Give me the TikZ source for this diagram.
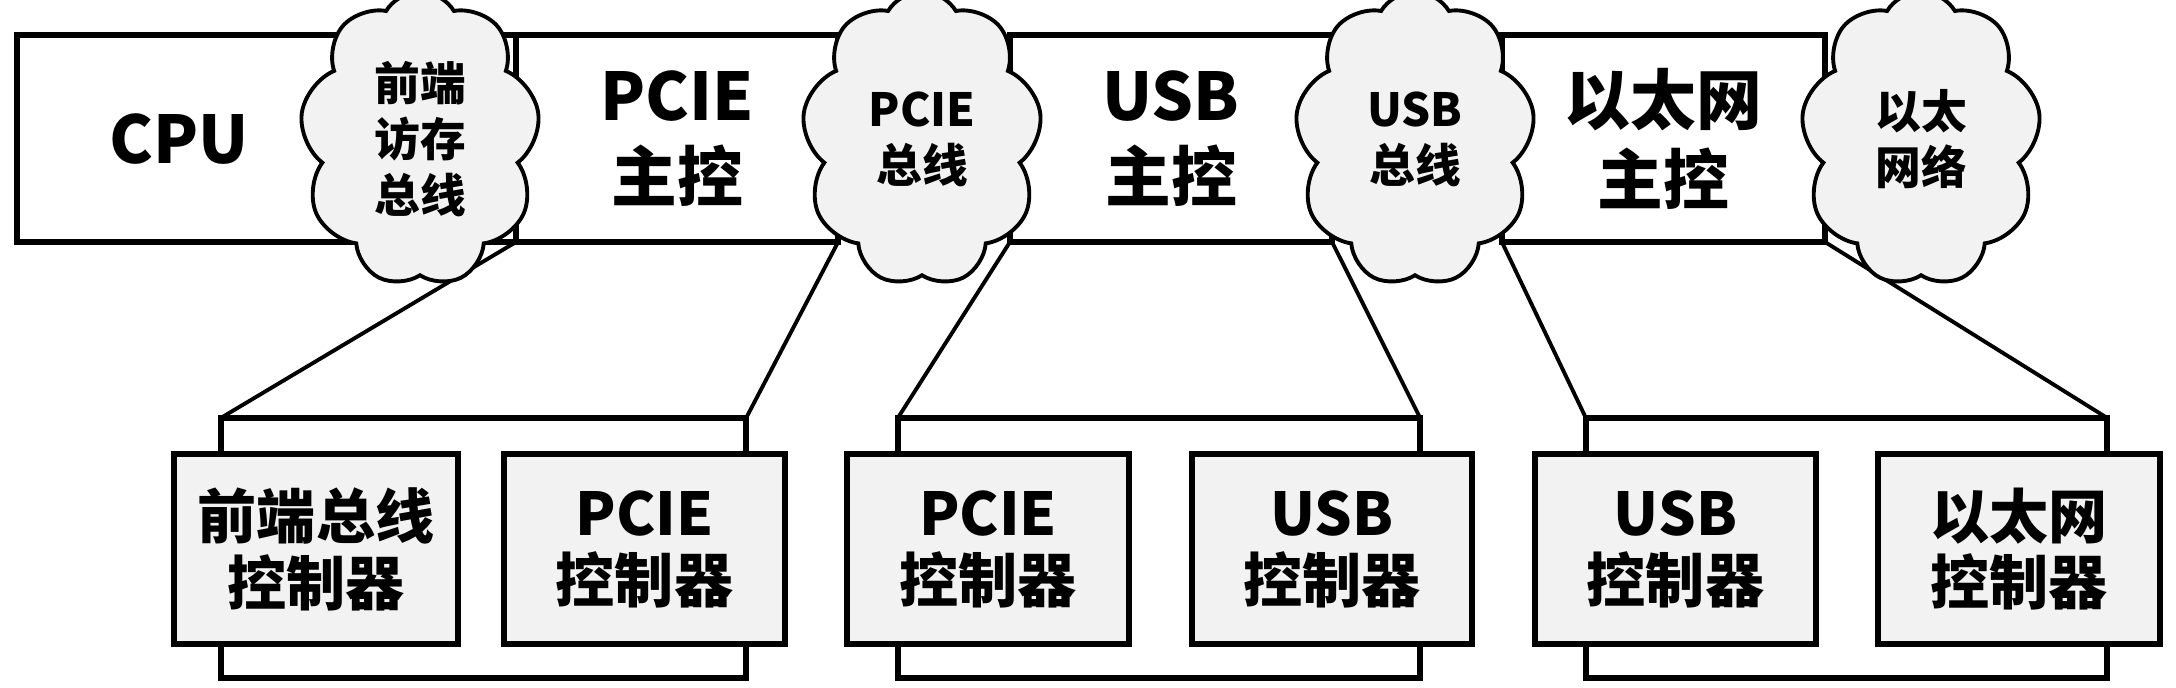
\documentclass[tikz,border=0pt]{standalone}
\usepackage{fontspec}
\setmainfont{Noto Sans CJK SC}
\usetikzlibrary{shapes.symbols}

\tikzset{
  every node/.append style={inner sep=0pt, outer sep=0pt},
  hostbox/.style={draw=black, line width=1.8pt, fill=white, minimum height=2.07cm},
  hosttext/.style={align=center, font=\fontsize{18.7}{22.8}\selectfont\bfseries},
  buscloud/.style={cloud, cloud puffs=9, cloud puff arc=120, cloud ignores aspect,
    draw=black, line width=1.1pt, fill=black!5, minimum width=2.4cm, minimum height=2.95cm,
    align=center, font=\fontsize{13}{15.9}\selectfont\bfseries},
  grpbox/.style={draw=black, line width=1.8pt, fill=white, minimum height=2.6cm},
  ctlbox/.style={draw=black, line width=1.8pt, fill=black!5, minimum height=1.9cm,
    align=center, font=\fontsize{16.8}{19}\selectfont\bfseries},
  link/.style={draw=black, line width=1.1pt}
}

\begin{document}
\begin{tikzpicture}[x=0.01cm,y=-0.01cm]
\useasboundingbox (0,0) rectangle (2176,687);

\node[hostbox, minimum width=4.99cm] (cpu) at (266.5,138.5) {};
\node[hosttext] (cpulabel) at (179,139) {CPU};
\node[hostbox, minimum width=3.22cm, hosttext] (pciehost) at (677,138.5) {PCIE\\主控};
\node[hostbox, minimum width=3.22cm, hosttext] (usbhost) at (1171,138.5) {USB\\主控};
\node[hostbox, minimum width=3.23cm, hosttext] (ethhost) at (1663.5,138.5) {以太网\\主控};

\node[grpbox, minimum width=5.25cm] (grpA) at (483.5,548) {};
\node[grpbox, minimum width=5.22cm] (grpB) at (1159,548) {};
\node[grpbox, minimum width=5.21cm] (grpC) at (1846.5,548) {};

\draw[link] (pciehost.south west) -- (grpA.north west);
\draw[link] (pciehost.south east) -- (grpA.north east);
\draw[link] (usbhost.south west) -- (grpB.north west);
\draw[link] (usbhost.south east) -- (grpB.north east);
\draw[link] (ethhost.south west) -- (grpC.north west);
\draw[link] (ethhost.south east) -- (grpC.north east);

\node[buscloud] (fsb) at (420,139) {前端\\访存\\总线};
\node[buscloud] (pcibus) at (922,139) {PCIE\\总线};
\node[buscloud] (usbbus) at (1415,139) {USB\\总线};
\node[buscloud] (ethnet) at (1921,139) {以太\\网络};

\node[ctlbox, minimum width=2.84cm] (fsbctl) at (316,549) {前端总线\\控制器};
\node[ctlbox, minimum width=2.81cm] (pcictlA) at (644.5,549) {PCIE\\控制器};
\node[ctlbox, minimum width=2.82cm] (pcictlB) at (988,549) {PCIE\\控制器};
\node[ctlbox, minimum width=2.80cm] (usbctlA) at (1332,549) {USB\\控制器};
\node[ctlbox, minimum width=2.81cm] (usbctlB) at (1675.5,549) {USB\\控制器};
\node[ctlbox, minimum width=2.82cm] (ethctl) at (2019,549) {以太网\\控制器};
\end{tikzpicture}
\end{document}
